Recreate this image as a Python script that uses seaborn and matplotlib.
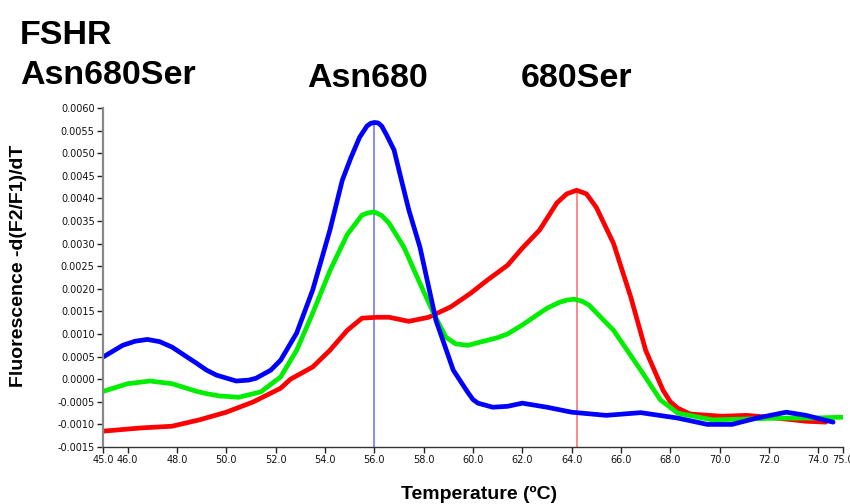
import matplotlib
matplotlib.use('Agg')
import numpy as np
import pandas as pd
import matplotlib.pyplot as plt
import seaborn as sns

# melting curve readings (temperature in C, -d(F2/F1)/dT)
blue_temp = [45.0, 45.8, 46.3, 46.8, 47.3, 47.8, 48.8, 49.2, 49.6, 50.4, 50.9, 51.2,
             51.8, 52.2, 52.85, 53.5, 54.2, 54.7, 55.05, 55.4, 55.7, 55.85, 56.0,
             56.15, 56.3, 56.5, 56.8, 57.1, 57.4, 57.85, 58.5, 59.2, 59.8, 60.0, 60.2,
             60.8, 61.4, 62.0, 63.0, 64.0, 65.4, 66.8, 68.3, 69.5, 70.5, 71.5, 72.7,
             73.5, 74.6]
blue_val = [0.00049, 0.00075, 0.00084, 0.00088, 0.00083, 0.00071, 0.00035, 0.0002,
            0.00009, -0.00004, -0.00002, 0.00002, 0.00020, 0.00042, 0.00102, 0.00197,
            0.0033, 0.0044, 0.0049, 0.00535, 0.0056, 0.00566, 0.00568, 0.00567,
            0.0056, 0.0054, 0.00507, 0.0044, 0.00374, 0.00292, 0.0013, 0.0002,
            -0.0003, -0.00045, -0.00053, -0.00062, -0.0006, -0.00053, -0.00062,
            -0.00073, -0.0008, -0.00074, -0.00086, -0.0010, -0.0010, -0.00086,
            -0.00073, -0.0008, -0.00095]

green_temp = [45.0, 46.0, 46.9, 47.8, 48.8, 49.2, 49.7, 50.5, 51.4, 52.2, 52.85, 53.5,
              54.2, 54.9, 55.5, 55.75, 56.0, 56.3, 56.6, 57.2, 57.85, 58.4, 58.9, 59.3,
              59.8, 60.5, 61.0, 61.4, 62.0, 62.7, 63.0, 63.5, 63.8, 64.1, 64.4, 64.7,
              65.7, 66.8, 67.6, 68.3, 69.7, 71.1, 72.4, 73.8, 75.0]
green_val = [-0.00027, -0.0001, -0.00004, -0.0001, -0.00027, -0.00032, -0.00037,
             -0.0004, -0.00028, 0.00005, 0.00064, 0.00146, 0.0024, 0.0032, 0.00363,
             0.00368, 0.0037, 0.00362, 0.00345, 0.00292, 0.00212, 0.00146, 0.00093,
             0.00078, 0.00075, 0.00085, 0.00092, 0.0010, 0.0012, 0.00146, 0.00157,
             0.0017, 0.00175, 0.00177, 0.00173, 0.00164, 0.00108, 0.0002, -0.00046,
             -0.00075, -0.0009, -0.00088, -0.00086, -0.00086, -0.00084]

red_temp = [45.0, 46.5, 47.8, 48.9, 50.0, 51.1, 52.2, 52.6, 53.5, 54.2, 54.9, 55.5,
            56.1, 56.6, 57.4, 58.2, 59.1, 59.9, 60.6, 61.4, 62.0, 62.7, 63.4, 63.8,
            64.2, 64.6, 65.0, 65.7, 66.4, 67.0, 67.35, 67.7, 68.0, 68.3, 68.8, 70.1,
            71.1, 72.3, 73.5, 74.3]
red_val = [-0.00115, -0.00108, -0.00104, -0.0009, -0.00073, -0.0005, -0.0002, 0.0,
           0.00027, 0.00064, 0.00108, 0.00135, 0.00137, 0.00137, 0.00128, 0.00137,
           0.0016, 0.0019, 0.0022, 0.00252, 0.0029, 0.0033, 0.0039, 0.0041, 0.00418,
           0.0041, 0.0038, 0.0030, 0.00181, 0.00064, 0.0002, -0.00024, -0.0005,
           -0.00064, -0.00077, -0.00082, -0.0008, -0.00086, -0.00093, -0.00095]

x_ticks = [45.0, 46.0, 48.0, 50.0, 52.0, 54.0, 56.0, 58.0, 60.0, 62.0, 64.0, 66.0,
           68.0, 70.0, 72.0, 74.0, 75.0]
y_ticks = [-0.0015, -0.0010, -0.0005, 0.0, 0.0005, 0.0010, 0.0015, 0.0020, 0.0025,
           0.0030, 0.0035, 0.0040, 0.0045, 0.0050, 0.0055, 0.0060]

df = pd.concat([
    pd.DataFrame({'temp': red_temp, 'value': red_val, 'sample': '680Ser'}),
    pd.DataFrame({'temp': green_temp, 'value': green_val, 'sample': 'Asn680Ser'}),
    pd.DataFrame({'temp': blue_temp, 'value': blue_val, 'sample': 'Asn680'}),
])
colors = {'680Ser': '#ff0000', 'Asn680Ser': '#00ee00', 'Asn680': '#0000ff'}

sns.set_style('white')
plt.rcParams['font.family'] = ['Liberation Sans', 'DejaVu Sans']
plt.rcParams['text.color'] = 'black'

fig = plt.figure(figsize=(8.5, 5.04), dpi=100)
ax = fig.add_axes([103 / 850, 1 - 447 / 504, 740 / 850, 339 / 504])

sns.lineplot(data=df, x='temp', y='value', hue='sample', palette=colors,
             hue_order=['680Ser', 'Asn680Ser', 'Asn680'], estimator=None,
             linewidth=3.4, legend=False, ax=ax,
             solid_joinstyle='round', solid_capstyle='round')

# peak markers
ax.vlines(56.0, -0.0015, max(blue_val), colors='#6a6aff', lw=1.1, zorder=1)
ax.vlines(64.2, -0.0015, max(red_val), colors='#ff6a6a', lw=1.1, zorder=1)

ax.set_xlim(45, 75)
ax.set_ylim(-0.0015, 0.0060)
ax.set_xticks(x_ticks)
ax.set_xticklabels([f'{t:.1f}' for t in x_ticks], family='DejaVu Sans', fontsize=7)
ax.set_yticks(y_ticks)
ax.set_yticklabels([f'{t:.4f}' for t in y_ticks], family='DejaVu Sans', fontsize=7)
ax.set_xlabel('')
ax.set_ylabel('')
ax.tick_params(direction='out', length=4, width=1, color='#222222', pad=2,
               labelcolor='#111111', left=True, bottom=True)

for s in ['top', 'right']:
    ax.spines[s].set_visible(False)
ax.spines['left'].set_color('#888888')
ax.spines['left'].set_linewidth(1.6)
ax.spines['bottom'].set_color('#333333')
ax.spines['bottom'].set_linewidth(1.0)

fig.text(0.022, 0.472, 'Fluorescence -d(F2/F1)/dT', rotation=90, ha='center',
         va='center', fontsize=14, fontweight='bold')
fig.text(0.564, 0.018, 'Temperature (\u00baC)', ha='center', va='center',
         fontsize=14, fontweight='bold')

fig.text(20 / 850, 1 - 44 / 504, 'FSHR', fontsize=24.5, fontweight='bold')
fig.text(20 / 850, 1 - 84 / 504, 'Asn680Ser', fontsize=24.5, fontweight='bold')
fig.text(307 / 850, 1 - 87 / 504, 'Asn680', fontsize=24.5, fontweight='bold')
fig.text(521 / 850, 1 - 87 / 504, '680Ser', fontsize=24.5, fontweight='bold')

fig.savefig('out.png', dpi=100)
